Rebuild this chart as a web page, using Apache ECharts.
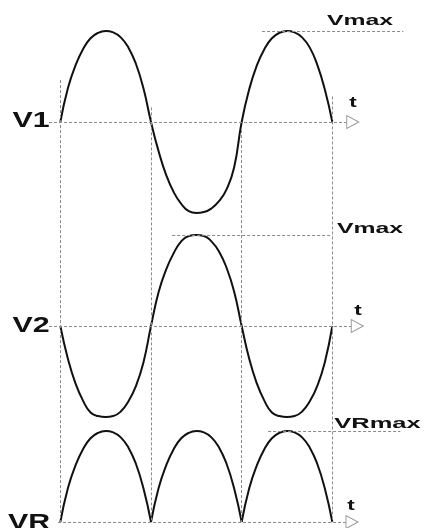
<!DOCTYPE html>
<html>
<head>
<meta charset="utf-8">
<script src="https://cdn.jsdelivr.net/npm/echarts@6/dist/echarts.min.js"></script>
<style>
  html, body { margin: 0; padding: 0; background: #fff; }
  #chart { width: 430px; height: 528px; }
</style>
</head>
<body>
<div id="chart"></div>
<script>
// time in twelfths of a half period: 0, 12, 24, 36 are the zero crossings
var tick = [0, 1, 2, 3, 4, 5, 6, 7, 8, 9, 10, 11, 12,
            13, 14, 15, 16, 17, 18, 19, 20, 21, 22, 23, 24,
            25, 26, 27, 28, 29, 30, 31, 32, 33, 34, 35, 36];

// values in units of Vmax
var v1 = [0, 0.37, 0.62, 0.80, 0.92, 0.98, 1, 0.985, 0.93, 0.82, 0.64, 0.37, 0,
          -0.32, -0.58, -0.77, -0.90, -0.98, -1, -0.99, -0.95, -0.87, -0.74, -0.50, 0,
          0.36, 0.62, 0.80, 0.92, 0.98, 1, 0.985, 0.93, 0.82, 0.63, 0.36, 0];
var v2 = [0, -0.36, -0.63, -0.82, -0.95, -0.99, -1, -0.99, -0.94, -0.83, -0.66, -0.40, 0,
          0.37, 0.62, 0.80, 0.93, 0.99, 1, 0.99, 0.93, 0.82, 0.64, 0.38, 0,
          -0.36, -0.63, -0.82, -0.95, -0.99, -1, -0.99, -0.94, -0.83, -0.66, -0.40, 0];
var vr = [0, 0.37, 0.62, 0.80, 0.92, 0.98, 1, 0.985, 0.93, 0.82, 0.64, 0.37, 0,
          0.37, 0.62, 0.80, 0.92, 0.98, 1, 0.985, 0.93, 0.82, 0.64, 0.37, 0,
          0.37, 0.62, 0.80, 0.92, 0.98, 1, 0.985, 0.93, 0.82, 0.64, 0.37, 0];

var crossings = [0, 12, 24, 36];
// where each dashed guide starts (VR amplitudes above the VR baseline)
var guideTop = [4.86, 4.56, 4.31, 4.68];

var myChart = echarts.init(document.getElementById('chart'));

function pairs(vals, from, to) {
  var out = [];
  for (var i = from; i <= to; i++) out.push([tick[i], vals[i]]);
  return out;
}

var dash = { color: '#8a8a8a', width: 1, type: [3, 2] };
var curve = { color: '#111', width: 2 };

function hLine(y, x1, x2) {
  return [{ coord: [x1, y] }, { coord: [x2, y] }];
}
function arrow(x) {
  return {
    coord: [x, 0], symbol: 'triangle', symbolRotate: -90, symbolSize: [13, 12],
    itemStyle: { color: '#fff', borderColor: '#999', borderWidth: 1 }
  };
}

function curveSeries(idx, data, marks, points) {
  return {
    type: 'line', xAxisIndex: idx, yAxisIndex: idx, data: data,
    smooth: 0.5, showSymbol: false, silent: true,
    lineStyle: curve,
    markLine: marks ? { silent: true, symbol: ['none', 'none'], label: { show: false },
      lineStyle: dash, data: marks } : undefined,
    markPoint: points ? { silent: true, label: { show: false }, data: points } : undefined
  };
}

var grids = [
  { left: 49, width: 374, top: 31, height: 182 },
  { left: 49, width: 374, top: 235, height: 182 },
  { left: 49, width: 374, top: 431, height: 91 },
  { left: 49, width: 374, top: 31, height: 491 }
];
var yRange = [[-1, 1], [-1, 1], [0, 1], [0, 5.4]];

var xAxes = [], yAxes = [];
for (var g = 0; g < 4; g++) {
  xAxes.push({ type: 'value', gridIndex: g, min: -1.5, max: 48, show: false });
  yAxes.push({ type: 'value', gridIndex: g, min: yRange[g][0], max: yRange[g][1], show: false });
}

var font = 'bold 15px "Liberation Sans", Arial, sans-serif';
var bigFont = 'bold 22px "Liberation Sans", Arial, sans-serif';
function label(text, x, y, f, sx) {
  return {
    type: 'text', x: x, y: y, scaleX: sx, silent: true,
    style: { text: text, font: f, fill: '#111', align: 'center', verticalAlign: 'middle',
      textAlign: 'center', textVerticalAlign: 'middle' }
  };
}

myChart.setOption({
  animation: false,
  backgroundColor: '#fff',
  grid: grids,
  xAxis: xAxes,
  yAxis: yAxes,
  series: [
    curveSeries(0, pairs(v1, 0, 36),
      [hLine(0, -1.5, 37.9), hLine(1, 26.7, 45.4)], [arrow(38.7)]),
    curveSeries(1, pairs(v2, 0, 36),
      [hLine(0, -1.5, 38.6), hLine(1, 14.8, 36)], [arrow(39.3)]),
    curveSeries(2, pairs(vr, 0, 12),
      [hLine(0, -0.3, 37.8), hLine(1, 27.5, 45)], [arrow(38.6)]),
    curveSeries(2, pairs(vr, 12, 24)),
    curveSeries(2, pairs(vr, 24, 36)),
    {
      type: 'line', xAxisIndex: 3, yAxisIndex: 3, data: [], silent: true,
      markLine: {
        silent: true, symbol: ['none', 'none'], label: { show: false }, lineStyle: dash,
        data: crossings.map(function (t, i) {
          return [{ coord: [t, guideTop[i]] }, { coord: [t, 0] }];
        })
      }
    }
  ],
  graphic: [
    label('V1', 31, 121, bigFont, 1.38),
    label('V2', 31, 326, bigFont, 1.38),
    label('VR', 29, 523, bigFont, 1.38),
    label('Vmax', 360, 20.5, font, 1.65),
    label('Vmax', 370, 229, font, 1.65),
    label('VRmax', 377.5, 424, font, 1.7),
    label('t', 353, 102.5, font, 1.5),
    label('t', 358, 311, font, 1.5),
    label('t', 351, 506, font, 1.5)
  ]
});
</script>
</body>
</html>
